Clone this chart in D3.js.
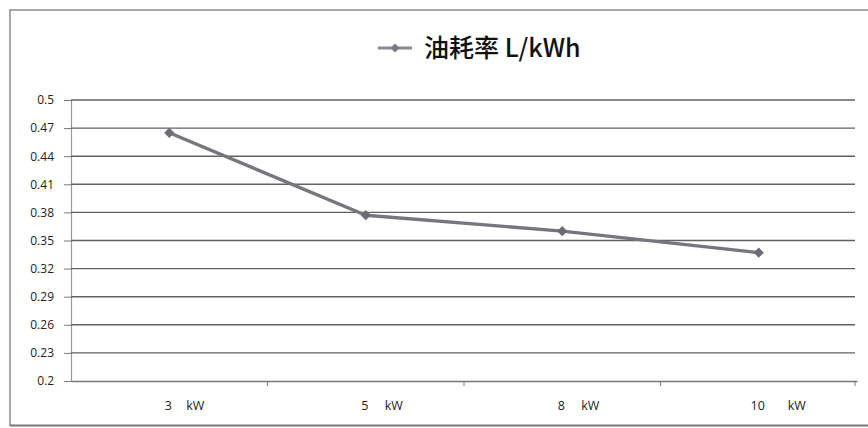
<!DOCTYPE html>
<html lang="zh">
<head>
  <meta charset="utf-8">
  <title>油耗率</title>
  <script src="https://d3js.org/d3.v7.min.js"></script>
  <style>
    body { margin: 0; background: #fff; }
    svg { display: block; }
    .tick text { font-family: "Open Sans", "Liberation Sans", sans-serif; }
  </style>
</head>
<body>
  <svg id="chart" width="868" height="428"></svg>
  <script>
    // data
    const categories = ["3", "5", "8", "10"];
    const unitGap = [18, 20, 20, 30]; // space before "kW" in each label
    const fuelRate = [0.465, 0.377, 0.360, 0.337];
    const yTicks = [0.2, 0.23, 0.26, 0.29, 0.32, 0.35, 0.38, 0.41, 0.44, 0.47, 0.5];
    const seriesName = "油耗率 L/kWh";

    const svg = d3.select("#chart");
    const margin = { left: 71, right: 11, top: 100, bottom: 47 };
    const width = 868, height = 428;

    // outer chart frame
    svg.append("path")
        .attr("d", "M10,426 L10,10 L868,10")
        .attr("fill", "none")
        .attr("stroke", "#8a8a8a")
        .attr("stroke-width", 1.5);
    svg.append("line")
        .attr("x1", 10).attr("x2", 868).attr("y1", 425.5).attr("y2", 425.5)
        .attr("stroke", "#777").attr("stroke-width", 2);

    const x = d3.scaleBand()
        .domain(categories)
        .range([margin.left, width - margin.right]);

    const y = d3.scaleLinear()
        .domain([0.2, 0.5])
        .range([height - margin.bottom, margin.top]);

    // y axis
    const yAxis = svg.append("g")
        .attr("transform", `translate(${margin.left},0)`)
        .call(d3.axisLeft(y).tickValues(yTicks).tickFormat(d => d3.format("")(+d.toFixed(2))).tickSize(7).tickPadding(10));
    yAxis.select(".domain").attr("stroke", "#999").attr("stroke-width", 1.2);
    yAxis.selectAll(".tick line").attr("stroke", "#777");
    yAxis.selectAll(".tick text").attr("font-size", 12).attr("fill", "#222");

    // horizontal gridlines
    svg.append("g")
        .selectAll("line")
        .data(yTicks.filter(d => d > 0.2))
        .join("line")
          .attr("x1", margin.left)
          .attr("x2", width - margin.right - 2)
          .attr("y1", d => y(d))
          .attr("y2", d => y(d))
          .attr("stroke", "#626262")
          .attr("stroke-width", 1.4);

    // x axis
    const xAxis = svg.append("g")
        .attr("transform", `translate(0,${height - margin.bottom})`)
        .call(d3.axisBottom(x).tickSize(0).tickFormat(""));
    xAxis.select(".domain").attr("stroke", "#777").attr("stroke-width", 1.3);

    const bounds = x.domain().map(d => x(d)).slice(1).concat([x(categories[categories.length - 1]) + x.bandwidth() - 2]);
    svg.append("g")
        .selectAll("line")
        .data(bounds)
        .join("line")
          .attr("x1", d => d).attr("x2", d => d)
          .attr("y1", height - margin.bottom)
          .attr("y2", height - margin.bottom + 5)
          .attr("stroke", "#777");

    const labels = svg.append("g")
        .attr("font-family", "'Open Sans', 'Liberation Sans', sans-serif")
        .attr("font-size", 12.5)
        .attr("fill", "#222")
        .selectAll("g")
        .data(categories)
        .join("g")
          .attr("transform", d => `translate(${x(d) + x.bandwidth() / 2 - 1},${height - margin.bottom + 29})`);
    labels.append("text")
        .attr("text-anchor", "middle")
        .text(d => d);
    labels.append("text")
        .attr("x", (d, i) => unitGap[i])
        .text("kW");

    // series line
    const pts = categories.map((c, i) => [x(c) + x.bandwidth() / 2, y(fuelRate[i])]);
    svg.append("path")
        .datum(pts)
        .attr("fill", "none")
        .attr("stroke", "#76767e")
        .attr("stroke-width", 3.4)
        .attr("stroke-linejoin", "round")
        .attr("d", d3.line());

    const diamond = d3.symbol().type(d3.symbolSquare).size(52);
    svg.append("g")
        .selectAll("path")
        .data(pts)
        .join("path")
          .attr("transform", d => `translate(${d[0]},${d[1]}) rotate(45)`)
          .attr("d", diamond)
          .attr("fill", "#6c6c74");

    // legend / title
    const lg = svg.append("g").attr("transform", "translate(378,48)");
    lg.append("line")
        .attr("x1", 0).attr("x2", 34)
        .attr("stroke", "#8a8a92").attr("stroke-width", 3);
    lg.append("path")
        .attr("transform", "translate(17,0) rotate(45)")
        .attr("d", d3.symbol().type(d3.symbolSquare).size(40))
        .attr("fill", "#7a7a82");
    lg.append("text")
        .attr("x", 46)
        .attr("y", 9)
        .attr("font-family", "'Noto Sans CJK SC', 'Noto Sans', sans-serif")
        .attr("font-size", 25)
        .attr("font-weight", 500)
        .attr("fill", "#111")
        .text(seriesName);
  </script>
</body>
</html>
